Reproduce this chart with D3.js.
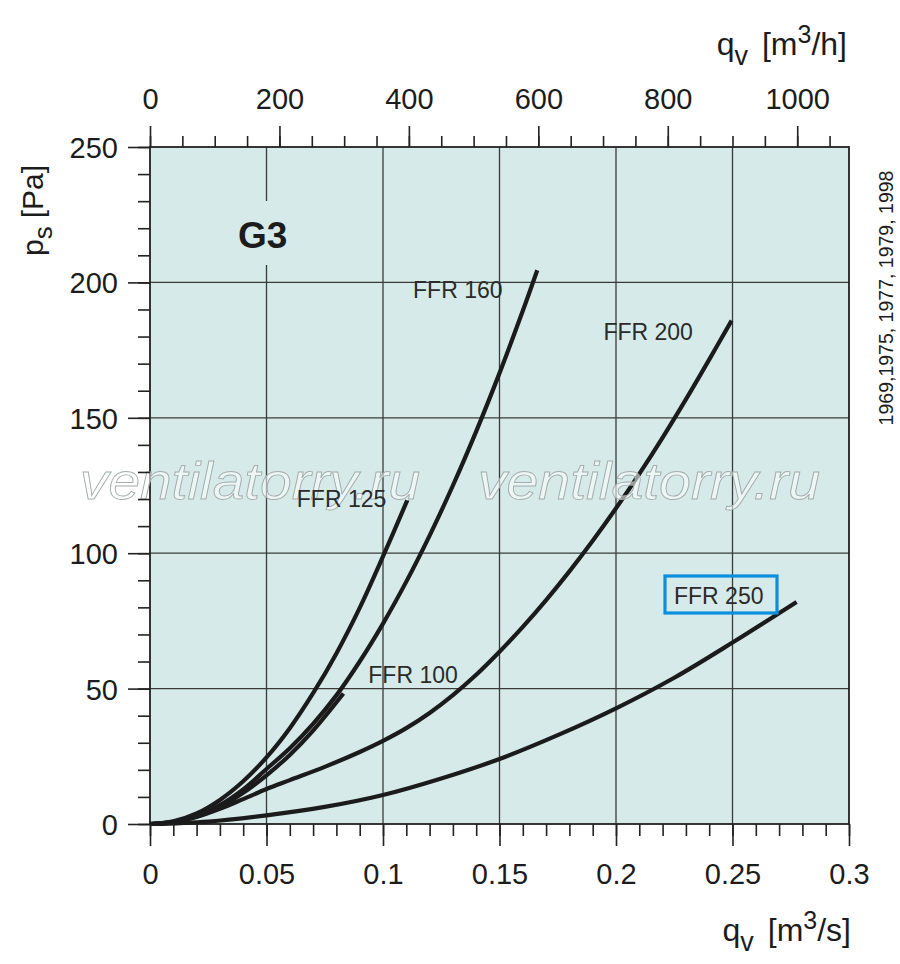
<!DOCTYPE html>
<html>
<head>
<meta charset="utf-8">
<script src="https://cdn.jsdelivr.net/npm/d3@7"></script>
<style>
  body { margin: 0; background: #fff; }
  svg text { font-family: "Liberation Sans", Arial, sans-serif; fill: #1c1c1c; }
</style>
</head>
<body>
<div id="chart"></div>
<script>
// Fan curves: [qv m3/s, ps Pa]
const ffr100 = [[0, 0], [0.01, 0.7], [0.02, 2.8], [0.03, 6.3], [0.04, 11.5], [0.05, 18], [0.06, 25.5], [0.07, 34.5], [0.083, 48.2]];
const ffr125 = [[0, 0], [0.01, 1], [0.02, 3.9], [0.03, 8.9], [0.04, 15.8], [0.05, 24.6], [0.06, 35.4], [0.07, 48.3], [0.08, 63], [0.09, 79.8], [0.1, 98.8], [0.1104, 119.5]];
const ffr160 = [[0, 0], [0.01, 0.8], [0.02, 3.1], [0.03, 7], [0.04, 12.8], [0.05, 20.3], [0.06, 28], [0.07, 37], [0.08, 47.5], [0.09, 60], [0.1, 74], [0.11, 89.5], [0.12, 106.5], [0.13, 125], [0.14, 145], [0.15, 166.5], [0.16, 189.5], [0.1662, 204.5]];
const ffr200 = [[0, 0], [0.01, 0.6], [0.02, 2.6], [0.03, 5.6], [0.04, 9.2], [0.05, 12.9], [0.06, 16.2], [0.075, 21.1], [0.09, 26.6], [0.1, 30.7], [0.11, 35.4], [0.12, 41], [0.13, 47.6], [0.14, 55.1], [0.15, 63.6], [0.16, 72.8], [0.17, 82.7], [0.18, 93.3], [0.19, 104.6], [0.2, 116.6], [0.21, 129.3], [0.22, 142.7], [0.23, 156.8], [0.24, 171.5], [0.2496, 185.9]];
const ffr250 = [[0, 0], [0.025, 0.9], [0.05, 3.2], [0.075, 6.3], [0.1, 10.7], [0.125, 16.8], [0.15, 24], [0.175, 32.8], [0.2, 42.7], [0.225, 54], [0.25, 67], [0.2775, 82]];

const seriesNames = ["FFR 100", "FFR 125", "FFR 160", "FFR 200", "FFR 250"];
const seriesData = [ffr100, ffr125, ffr160, ffr200, ffr250];

// Axes
const xTicks = [0, 0.05, 0.1, 0.15, 0.2, 0.25, 0.3];
const xTickLabels = ["0", "0.05", "0.1", "0.15", "0.2", "0.25", "0.3"];
const yTicks = [0, 50, 100, 150, 200, 250];
const topTicks = [0, 200, 400, 600, 800, 1000];
const yearsNote = "1969,1975, 1977, 1979, 1998";
const watermark = "ventilatorry.ru";

const width = 900, height = 964;
const m = { left: 150, right: 849, top: 147, bottom: 824 };
const bg = "#d6ebe9";

const svg = d3.select("#chart").append("svg")
  .attr("width", width).attr("height", height);

const x = d3.scaleLinear().domain([0, 0.3]).range([m.left, m.right]);
const y = d3.scaleLinear().domain([0, 250]).range([m.bottom, m.top]);
const xTop = d3.scaleLinear().domain([0, 0.3 * 3600]).range([m.left, m.right]);

// plot background
svg.append("rect")
  .attr("x", m.left).attr("y", m.top)
  .attr("width", m.right - m.left).attr("height", m.bottom - m.top)
  .attr("fill", bg);

// grid
const grid = svg.append("g").attr("stroke", "#3a3a3a").attr("stroke-width", 1.3);
grid.selectAll(".vg").data(xTicks.slice(1, -1)).enter().append("line")
  .attr("x1", d => x(d)).attr("x2", d => x(d))
  .attr("y1", m.top).attr("y2", m.bottom);
grid.selectAll(".hg").data(yTicks.slice(1, -1)).enter().append("line")
  .attr("y1", d => y(d)).attr("y2", d => y(d))
  .attr("x1", m.left).attr("x2", m.right);

// the G3 label cuts the 0.05 grid line
svg.append("rect")
  .attr("x", x(0.05) - 4).attr("y", 201)
  .attr("width", 8).attr("height", 64)
  .attr("fill", bg);

svg.append("text")
  .attr("x", 238).attr("y", 248)
  .attr("font-size", 37).attr("font-weight", "bold")
  .text("G3");

// frame
svg.append("rect")
  .attr("x", m.left).attr("y", m.top)
  .attr("width", m.right - m.left).attr("height", m.bottom - m.top)
  .attr("fill", "none").attr("stroke", "#222").attr("stroke-width", 1.8);

// curves
const line = d3.line()
  .x(d => x(d[0])).y(d => y(d[1]))
  .curve(d3.curveCatmullRom.alpha(0.5));

svg.append("g").selectAll("path").data(seriesData).enter().append("path")
  .attr("d", line)
  .attr("fill", "none")
  .attr("stroke", "#1b1b1b")
  .attr("stroke-width", 4.2)
  .attr("stroke-linecap", "butt");

// watermark (outlined, over everything)
[[80, 420], [478, 820]].forEach(([x0, x1]) => {
  svg.append("text")
    .attr("x", x0).attr("y", 499)
    .attr("font-family", "'DejaVu Sans', sans-serif")
    .attr("font-style", "italic")
    .attr("font-size", 52)
    .attr("textLength", x1 - x0)
    .attr("lengthAdjust", "spacingAndGlyphs")
    .style("fill", "rgba(255,255,255,0.55)")
    .attr("stroke", "#a4acac")
    .attr("stroke-width", 0.9)
    .text(watermark);
});

// curve labels
const labelAt = [[0.0937, 52.1], [0.063, 117], [0.1129, 194.4], [0.1946, 178.8], [0.2249, 81.4]];
const labels = svg.append("g");
seriesNames.forEach((name, i) => {
  labels.append("text")
    .attr("x", x(labelAt[i][0])).attr("y", y(labelAt[i][1]))
    .attr("font-size", 23)
    .style("fill", "#2a2a2a")
    .text(name);
});
// highlight box on FFR 250
svg.append("rect")
  .attr("x", 665).attr("y", 576)
  .attr("width", 112).attr("height", 37)
  .attr("fill", "none")
  .attr("stroke", "#0a8fe0").attr("stroke-width", 3.2);

// axes
const tickStyle = g => {
  g.select(".domain").remove();
  g.selectAll("line").attr("stroke", "#222").attr("stroke-width", 1.6);
  g.selectAll("text").attr("font-size", 29).style("fill", "#1c1c1c")
    .attr("font-family", "'Liberation Sans', Arial, sans-serif");
};

// bottom major + minor
svg.append("g").attr("transform", `translate(0,${m.bottom})`)
  .call(d3.axisBottom(x).tickValues(d3.range(0, 0.3001, 0.01)).tickSize(12).tickFormat(""))
  .call(tickStyle);
svg.append("g").attr("transform", `translate(0,${m.bottom})`)
  .call(d3.axisBottom(x).tickValues(xTicks).tickSize(22).tickPadding(0)
    .tickFormat((d, i) => xTickLabels[i]))
  .call(tickStyle)
  .call(g => g.selectAll("text").attr("y", 60).attr("dy", 0));

// left major + minor
svg.append("g").attr("transform", `translate(${m.left},0)`)
  .call(d3.axisLeft(y).tickValues(d3.range(0, 251, 10)).tickSize(12).tickFormat(""))
  .call(tickStyle);
svg.append("g").attr("transform", `translate(${m.left},0)`)
  .call(d3.axisLeft(y).tickValues(yTicks).tickSize(22).tickPadding(10))
  .call(tickStyle)
  .call(g => g.selectAll("text").attr("dy", "0.36em"));

// top major + minor (m3/h)
svg.append("g").attr("transform", `translate(0,${m.top})`)
  .call(d3.axisTop(xTop).tickValues(d3.range(0, 1080, 50)).tickSize(11).tickFormat(""))
  .call(tickStyle);
svg.append("g").attr("transform", `translate(0,${m.top})`)
  .call(d3.axisTop(xTop).tickValues(topTicks).tickSize(21).tickPadding(0)
    .tickFormat(d3.format("d")))
  .call(tickStyle)
  .call(g => g.selectAll("text").attr("y", -38).attr("dy", 0));

// axis titles
const title = (sel, unit) => {
  sel.append("tspan").text("q");
  sel.append("tspan").attr("dy", 10).attr("font-size", 27).text("v");
  sel.append("tspan").attr("dy", -10).attr("dx", 14).text("[m");
  sel.append("tspan").attr("dy", -12).attr("font-size", 25).text("3");
  sel.append("tspan").attr("dy", 12).text("/" + unit + "]");
};
svg.append("text").attr("x", 847).attr("y", 55).attr("font-size", 32)
  .attr("text-anchor", "end").call(title, "h");
svg.append("text").attr("x", 851).attr("y", 941).attr("font-size", 32)
  .attr("text-anchor", "end").call(title, "s");

const yTitle = svg.append("text")
  .attr("transform", "translate(43,256) rotate(-90)")
  .attr("font-size", 30);
yTitle.append("tspan").text("p");
yTitle.append("tspan").attr("dy", 9).attr("font-size", 26).text("s");
yTitle.append("tspan").attr("dy", -9).attr("dx", 8).text("[Pa]");

// side note
svg.append("text")
  .attr("transform", "translate(893,298) rotate(-90)")
  .attr("text-anchor", "middle")
  .attr("font-size", 19.5)
  .text(yearsNote);
</script>
</body>
</html>
